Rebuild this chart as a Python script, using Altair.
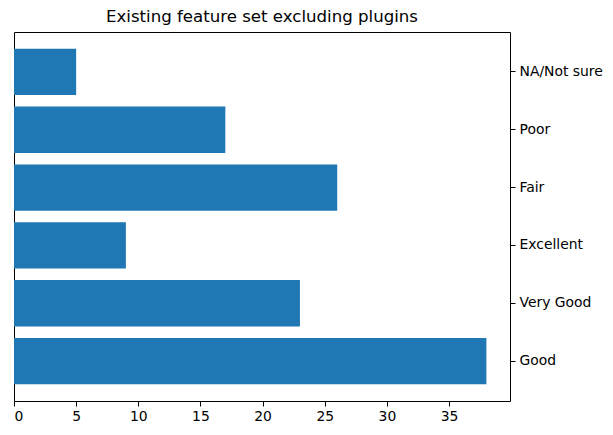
import altair as alt
import pandas as pd

categories = ["Good", "Very Good", "Excellent", "Fair", "Poor", "NA/Not sure"]
counts = [38, 23, 9, 26, 17, 5]

df = pd.DataFrame({"category": categories, "count": counts})
order = list(reversed(categories))

chart = alt.Chart(df).mark_bar(color="#1f77b4").encode(
    x=alt.X("count:Q",
            scale=alt.Scale(domain=[0, 39.9], nice=False, zero=True),
            axis=alt.Axis(values=[0, 5, 10, 15, 20, 25, 30, 35], title=None, grid=False,
                          tickColor="black", domainColor="black", tickSize=5,
                          labelFont="DejaVu Sans", labelFontSize=13.9, labelColor="black",
                          labelPadding=3, domain=False)),
    y=alt.Y("category:N", sort=order,
            scale=alt.Scale(paddingInner=0.2, paddingOuter=0.29),
            axis=alt.Axis(orient="right", title=None, grid=False,
                          tickColor="black", domainColor="black", tickSize=5,
                          labelFont="DejaVu Sans", labelFontSize=13.9, labelColor="black",
                          labelPadding=4, domain=False)),
).properties(
    width=496, height=369,
    title=alt.TitleParams("Existing feature set excluding plugins", font="DejaVu Sans",
                          fontSize=16.6, fontWeight="normal", color="black", offset=6,
                          anchor="middle"),
    autosize=alt.AutoSizeParams(type="none"),
    padding={"left": 6, "top": 24, "right": 95, "bottom": 30},
).configure_view(stroke="black", strokeWidth=1)

chart.save("out.html", embed_options={"renderer": "svg", "actions": False})
